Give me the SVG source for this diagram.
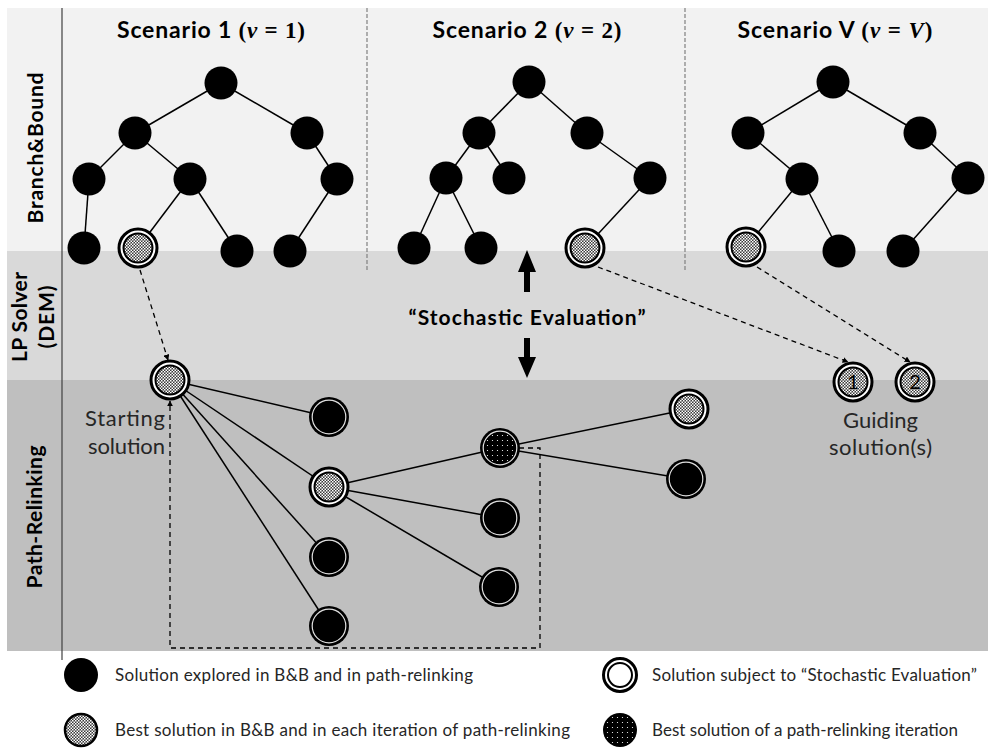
<svg xmlns="http://www.w3.org/2000/svg" width="988" height="749" viewBox="0 0 988 749">
<style>
.e{stroke:#000;stroke-width:1.5;fill:none}
.d{stroke:#000;stroke-width:1.3;stroke-dasharray:5 4;fill:none}
.sep{stroke:#808080;stroke-width:1.2;stroke-dasharray:4 2}
.b{fill:#000}
.ro{fill:#fff;stroke:#000;stroke-width:3}
.ri{stroke:#000;stroke-width:2}
.wr{fill:none;stroke:#e0e0e0;stroke-width:1.2}
.t{font-family:Lato,'Liberation Sans',sans-serif}
.hdr{font-family:Lato,'Liberation Sans',sans-serif;font-weight:bold;font-size:23px}
.m{font-family:'Liberation Serif',serif}
.lab{font-family:Lato,'Liberation Sans',sans-serif;font-weight:bold;font-size:21px}
.tx{font-family:Lato,'Liberation Sans',sans-serif;font-size:22px;fill:#262626}
.lg{font-family:Lato,'Liberation Sans',sans-serif;font-size:17px;fill:#262626}
</style>
<defs>
<pattern id="chk" width="3" height="3" patternUnits="userSpaceOnUse">
<rect width="3" height="3" fill="#3a3a3a"/>
<rect width="1.5" height="1.5" fill="#fff"/>
<rect x="1.5" y="1.5" width="1.5" height="1.5" fill="#fff"/>
</pattern>
<pattern id="dots" width="5" height="5" patternUnits="userSpaceOnUse">
<rect width="5" height="5" fill="#000"/>
<circle cx="2.5" cy="2.5" r="0.6" fill="#fff"/>
</pattern>
<marker id="ah" viewBox="0 0 10 10" refX="9" refY="5" markerWidth="6" markerHeight="6" orient="auto" markerUnits="userSpaceOnUse">
<path d="M0,0 L10,5 L0,10 z" fill="#000"/>
</marker>
</defs>

<!-- bands -->
<rect x="7" y="8" width="981" height="243" fill="#f2f2f2"/>
<rect x="7" y="251" width="981" height="129" fill="#d9d9d9"/>
<rect x="7" y="380" width="981" height="271" fill="#bfbfbf"/>
<line x1="62" y1="8" x2="62" y2="660" stroke="#404040" stroke-width="1.2"/>
<line class="sep" x1="367" y1="8" x2="367" y2="272"/>
<line class="sep" x1="685" y1="8" x2="685" y2="272"/>

<!-- band labels -->
<text class="lab" transform="translate(43,148) rotate(-90)" text-anchor="middle" textLength="151" lengthAdjust="spacing">Branch&amp;Bound</text>
<text class="lab" transform="translate(27,317) rotate(-90)" text-anchor="middle" textLength="90" lengthAdjust="spacing">LP Solver</text>
<text class="lab" transform="translate(54,317) rotate(-90)" text-anchor="middle" textLength="63" lengthAdjust="spacing">(DEM)</text>
<text class="lab" transform="translate(42,517) rotate(-90)" text-anchor="middle" textLength="143" lengthAdjust="spacing">Path-Relinking</text>

<!-- headers -->
<text class="hdr" x="211" y="38" text-anchor="middle" textLength="188" lengthAdjust="spacing">Scenario 1 <tspan class="m">(<tspan font-style="italic">v</tspan> = 1)</tspan></text>
<text class="hdr" x="527" y="38" text-anchor="middle" textLength="189" lengthAdjust="spacing">Scenario 2 <tspan class="m">(<tspan font-style="italic">v</tspan> = 2)</tspan></text>
<text class="hdr" x="835" y="38" text-anchor="middle" textLength="195" lengthAdjust="spacing">Scenario V  <tspan class="m">(<tspan font-style="italic">v</tspan> = <tspan font-style="italic">V</tspan>)</tspan></text>

<!-- connectors -->
<g id="connectors">
<!-- tree 1 -->
<line class="e" x1="221" y1="83" x2="135" y2="133"/>
<line class="e" x1="221" y1="83" x2="307" y2="133"/>
<line class="e" x1="135" y1="133" x2="89" y2="179"/>
<line class="e" x1="135" y1="133" x2="190" y2="179"/>
<line class="e" x1="307" y1="133" x2="337" y2="179"/>
<line class="e" x1="89" y1="179" x2="84" y2="248"/>
<line class="e" x1="190" y1="179" x2="138" y2="248"/>
<line class="e" x1="190" y1="179" x2="237" y2="251"/>
<line class="e" x1="337" y1="179" x2="290" y2="251"/>
<!-- tree 2 -->
<line class="e" x1="529" y1="82" x2="479" y2="133"/>
<line class="e" x1="529" y1="82" x2="587" y2="133"/>
<line class="e" x1="479" y1="133" x2="446" y2="178"/>
<line class="e" x1="479" y1="133" x2="509" y2="178"/>
<line class="e" x1="587" y1="133" x2="650" y2="178"/>
<line class="e" x1="446" y1="178" x2="414" y2="248"/>
<line class="e" x1="446" y1="178" x2="481" y2="248"/>
<line class="e" x1="650" y1="178" x2="585" y2="248"/>
<!-- tree 3 -->
<line class="e" x1="833" y1="82" x2="748" y2="133"/>
<line class="e" x1="833" y1="82" x2="920" y2="133"/>
<line class="e" x1="748" y1="133" x2="802" y2="179"/>
<line class="e" x1="920" y1="133" x2="968" y2="178"/>
<line class="e" x1="802" y1="179" x2="746" y2="247"/>
<line class="e" x1="802" y1="179" x2="839" y2="251"/>
<line class="e" x1="968" y1="178" x2="903" y2="251"/>
<!-- path relinking -->
<line class="e" x1="170" y1="380" x2="329" y2="417"/>
<line class="e" x1="170" y1="380" x2="329" y2="487"/>
<line class="e" x1="170" y1="380" x2="329" y2="557"/>
<line class="e" x1="170" y1="380" x2="329" y2="626"/>
<line class="e" x1="329" y1="487" x2="500" y2="448"/>
<line class="e" x1="329" y1="487" x2="500" y2="518"/>
<line class="e" x1="329" y1="487" x2="499" y2="587"/>
<line class="e" x1="500" y1="448" x2="689" y2="409"/>
<line class="e" x1="500" y1="448" x2="686" y2="479"/>
<!-- dashed -->
<line class="d" x1="140" y1="270" x2="168" y2="360" marker-end="url(#ah)"/>
<path class="d" d="M519,448 L540,448 L540,648 L170,648 L170,401" marker-end="url(#ah)"/>
<line class="d" x1="598" y1="267" x2="848" y2="362" marker-end="url(#ah)"/>
<line class="d" x1="757" y1="267" x2="910" y2="362" marker-end="url(#ah)"/>
<!-- stochastic evaluation arrows -->
<path d="M527,250 L536,272 L530,272 L530,292 L524,292 L524,272 L518,272 z" fill="#000"/>
<path d="M527,378 L536,357 L530,357 L530,338 L524,338 L524,357 L518,357 z" fill="#000"/>
</g>

<!-- tree 1 nodes -->
<g id="t1n1"><circle class="b" cx="221" cy="83" r="16.5"/></g>
<g id="t1n2"><circle class="b" cx="135" cy="133" r="16.5"/></g>
<g id="t1n3"><circle class="b" cx="307" cy="133" r="16.5"/></g>
<g id="t1n4"><circle class="b" cx="89" cy="179" r="16.5"/></g>
<g id="t1n5"><circle class="b" cx="190" cy="179" r="16.5"/></g>
<g id="t1n6"><circle class="b" cx="337" cy="179" r="16.5"/></g>
<g id="t1n7"><circle class="b" cx="84" cy="248" r="16.5"/></g>
<g id="t1n8" transform="translate(138,248)"><circle class="ro" r="19"/><circle class="ri" r="14.5" fill="url(#chk)"/></g>
<g id="t1n9"><circle class="b" cx="237" cy="251" r="16.5"/></g>
<g id="t1n10"><circle class="b" cx="290" cy="251" r="16.5"/></g>

<!-- tree 2 nodes -->
<g id="t2n1"><circle class="b" cx="529" cy="82" r="16.5"/></g>
<g id="t2n2"><circle class="b" cx="479" cy="133" r="16.5"/></g>
<g id="t2n3"><circle class="b" cx="587" cy="133" r="16.5"/></g>
<g id="t2n4"><circle class="b" cx="446" cy="178" r="16.5"/></g>
<g id="t2n5"><circle class="b" cx="509" cy="178" r="16.5"/></g>
<g id="t2n6"><circle class="b" cx="650" cy="178" r="16.5"/></g>
<g id="t2n7"><circle class="b" cx="414" cy="248" r="16.5"/></g>
<g id="t2n8"><circle class="b" cx="481" cy="248" r="16.5"/></g>
<g id="t2n9" transform="translate(585,248)"><circle class="ro" r="19"/><circle class="ri" r="14.5" fill="url(#chk)"/></g>

<!-- tree 3 nodes -->
<g id="t3n1"><circle class="b" cx="833" cy="82" r="16.5"/></g>
<g id="t3n2"><circle class="b" cx="748" cy="133" r="16.5"/></g>
<g id="t3n3"><circle class="b" cx="920" cy="133" r="16.5"/></g>
<g id="t3n4"><circle class="b" cx="802" cy="179" r="16.5"/></g>
<g id="t3n5"><circle class="b" cx="968" cy="178" r="16.5"/></g>
<g id="t3n6" transform="translate(746,247)"><circle class="ro" r="19"/><circle class="ri" r="14.5" fill="url(#chk)"/></g>
<g id="t3n7"><circle class="b" cx="839" cy="251" r="16.5"/></g>
<g id="t3n8"><circle class="b" cx="903" cy="251" r="16.5"/></g>

<!-- path relinking nodes -->
<g id="start" transform="translate(170,380)"><circle class="ro" r="19"/><circle class="ri" r="14.5" fill="url(#chk)"/></g>
<g id="p1" transform="translate(329,417)"><circle class="b" r="20"/><circle class="wr" r="16.8"/></g>
<g id="p2" transform="translate(329,487)"><circle class="ro" r="19"/><circle class="ri" r="14.5" fill="url(#chk)"/></g>
<g id="p3" transform="translate(329,557)"><circle class="b" r="20"/><circle class="wr" r="16.8"/></g>
<g id="p4" transform="translate(329,626)"><circle class="b" r="20"/><circle class="wr" r="16.8"/></g>
<g id="q1" transform="translate(500,448)"><circle class="b" r="20"/><circle class="wr" r="16.8"/><circle r="15.5" fill="url(#dots)"/></g>
<g id="q2" transform="translate(500,518)"><circle class="b" r="20"/><circle class="wr" r="16.8"/></g>
<g id="q3" transform="translate(499,587)"><circle class="b" r="20"/><circle class="wr" r="16.8"/></g>
<g id="r1" transform="translate(689,409)"><circle class="ro" r="19"/><circle class="ri" r="14.5" fill="url(#chk)"/></g>
<g id="r2" transform="translate(686,479)"><circle class="b" r="20"/><circle class="wr" r="16.8"/></g>

<!-- guiding solutions -->
<g id="g1" transform="translate(853,382)"><circle class="ro" r="19"/><circle class="ri" r="14.5" fill="url(#chk)"/><text class="t" y="7" text-anchor="middle" font-size="20" fill="#000">1</text></g>
<g id="g2" transform="translate(915,382)"><circle class="ro" r="19"/><circle class="ri" r="14.5" fill="url(#chk)"/><text class="t" y="7" text-anchor="middle" font-size="20" fill="#000">2</text></g>

<!-- text labels -->
<text class="lab" x="527" y="325" text-anchor="middle" font-size="22" textLength="237" lengthAdjust="spacing">“Stochastic Evaluation”</text>
<text class="tx" x="125" y="426" text-anchor="middle" textLength="80" lengthAdjust="spacing">Starting</text>
<text class="tx" x="126.5" y="454" text-anchor="middle" textLength="77" lengthAdjust="spacing">solution</text>
<text class="tx" x="880.5" y="428" text-anchor="middle" textLength="75" lengthAdjust="spacing">Guiding</text>
<text class="tx" x="880.5" y="455" text-anchor="middle" textLength="103" lengthAdjust="spacing">solution(s)</text>

<!-- legend -->
<g id="legend">
<circle class="b" cx="81" cy="675" r="17"/>
<text class="lg" x="115" y="681" textLength="358" lengthAdjust="spacing">Solution explored in B&amp;B and in path-relinking</text>
<circle cx="81" cy="730" r="16" fill="url(#chk)" stroke="#000" stroke-width="2.5"/>
<text class="lg" x="115" y="736" textLength="455" lengthAdjust="spacing">Best solution in B&amp;B and in each iteration of path-relinking</text>
<circle cx="620" cy="675" r="16.5" fill="#fff" stroke="#000" stroke-width="3"/>
<circle cx="620" cy="675" r="12" fill="#fff" stroke="#000" stroke-width="2"/>
<text class="lg" x="652" y="681" textLength="325" lengthAdjust="spacing">Solution subject to “Stochastic Evaluation”</text>
<circle cx="620" cy="730" r="17" fill="url(#dots)"/>
<text class="lg" x="652" y="736" textLength="306" lengthAdjust="spacing">Best solution of a path-relinking iteration</text>
</g>
</svg>
